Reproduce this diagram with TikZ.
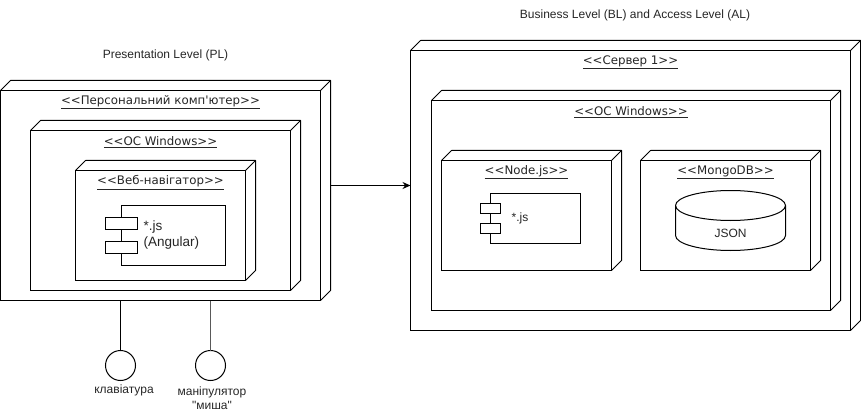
\documentclass[tikz,border=0pt]{standalone}
\usepackage{fontspec}
\newfontfamily\stfont{DejaVu Sans}
\newfontfamily\plfont{Liberation Sans}
\usetikzlibrary{arrows.meta}
\tikzset{
  ln/.style={line width=1pt,draw=black},
  box/.style={ln,rectangle,inner sep=0pt,outer sep=0pt,fill=white},
  stereo/.style={font=\stfont\fontsize{11.8}{14}\selectfont,inner sep=0pt,anchor=center,text=black!85},
  plain/.style={font=\plfont\fontsize{12}{14.5}\selectfont,inner sep=0pt,align=center,text=black!85},
  ball/.style={ln,circle,minimum size=30pt,inner sep=0pt,outer sep=0pt},
}
\newcommand{\boxat}[5]{% name x1 y1 x2 y2
  \node[box,minimum width={(#4-#2)*1pt},minimum height={(#5-#3)*1pt}] (#1) at ({(#2+#4)/2},{(#3+#5)/2}) {};
  \draw[ln,line join=round] (#1.north west) -- ++(10,-10) -- ([shift={(10pt,10pt)}]#1.north east) -- ([shift={(10pt,10pt)}]#1.south east) -- (#1.south east)
    (#1.north east) -- ([shift={(10pt,10pt)}]#1.north east);
}
\newcommand{\ulst}[1]{\underline{#1}}
\begin{document}
\begin{tikzpicture}[x=1pt,y=-1pt]
\useasboundingbox (0,0) rectangle (861,414);
% left side
\boxat{pc}{0.5}{90.5}{320.5}{300.5}
\boxat{osl}{30.5}{130.5}{290.5}{290.5}
\boxat{web}{75.5}{170.5}{245.5}{280.5}
\node[box,minimum width=104pt,minimum height=60pt] (cl) at (173,235) {};
\node[box,minimum width=32pt,minimum height=12pt] (cl1) at (121.5,223) {};
\node[box,minimum width=32pt,minimum height=12pt] (cl2) at (121.5,247) {};
\node[stereo] (tpc) at (160.5,102.5) {\ulst{<{}<Персональний комп'ютер>{}>}};
\node[stereo] (tosl) at (160.5,142.5) {\ulst{<{}<ОС Windows>{}>}};
\node[stereo] (tweb) at (160.5,182.5) {\ulst{<{}<Веб-навігатор>{}>}};
\node[plain,align=left,anchor=west,font=\plfont\fontsize{13.5}{16}\selectfont] (jsl) at (143.5,235) {*.js\\(Angular)};
\node[plain] (tpl) at (165.5,55) {Presentation Level (PL)};
% right side
\boxat{srv}{410.5}{50.5}{850.5}{330.5}
\boxat{osr}{431.5}{100.5}{830.5}{310.5}
\boxat{nodejs}{441.5}{160.5}{611.5}{270.5}
\boxat{mongo}{640.5}{160.5}{810.5}{270.5}
\node[box,minimum width=90pt,minimum height=50pt] (cr) at (535.5,218.5) {};
\node[box,minimum width=20pt,minimum height=10pt] (cr1) at (490.5,208.5) {};
\node[box,minimum width=20pt,minimum height=10pt] (cr2) at (490.5,228.5) {};
\node[stereo] (tsrv) at (630.5,62.5) {\ulst{<{}<Сервер 1>{}>}};
\node[stereo] (tosr) at (631,112.5) {\ulst{<{}<ОС Windows>{}>}};
\node[stereo] (tnode) at (526.5,172.5) {\ulst{<{}<Node.js>{}>}};
\node[stereo] (tmongo) at (725.5,172.5) {\ulst{<{}<MongoDB>{}>}};
\node[plain,font=\plfont\fontsize{12}{14}\selectfont] (jsr) at (520,218) {*.js};
% cylinder
\draw[ln,fill=white] (675.5,205.5) arc[start angle=180,end angle=360,x radius=55,y radius=15]
   -- (785.5,235.5) arc[start angle=0,end angle=180,x radius=55,y radius=15] -- cycle;
\draw[ln] (675.5,205.5) arc[start angle=180,end angle=0,x radius=55,y radius=15];
\node[plain] (jsont) at (730.5,233.5) {JSON};
\node[plain] (tbl) at (635,15.5) {Business Level (BL) and Access Level (AL)};
% connector
\coordinate (ar) at (330.5,185.5);
\draw[ln,-{Stealth[length=8pt,width=7pt]}] (ar) -- (ar -| srv.west);
% lollipops
\node[ball] (kb) at (120.5,365.5) {};
\node[ball] (ms) at (210.5,365.5) {};
\draw[ln] (pc.south west -| kb.north) -- (kb.north);
\draw[line width=1.2pt,draw=black!65] (pc.south west -| ms.north) -- (ms.north);
\node[plain] (tkb) at (124,390) {клавіатура};
\node[plain] (tms) at (212,398) {маніпулятор\\"миша"};
\end{tikzpicture}
\end{document}
